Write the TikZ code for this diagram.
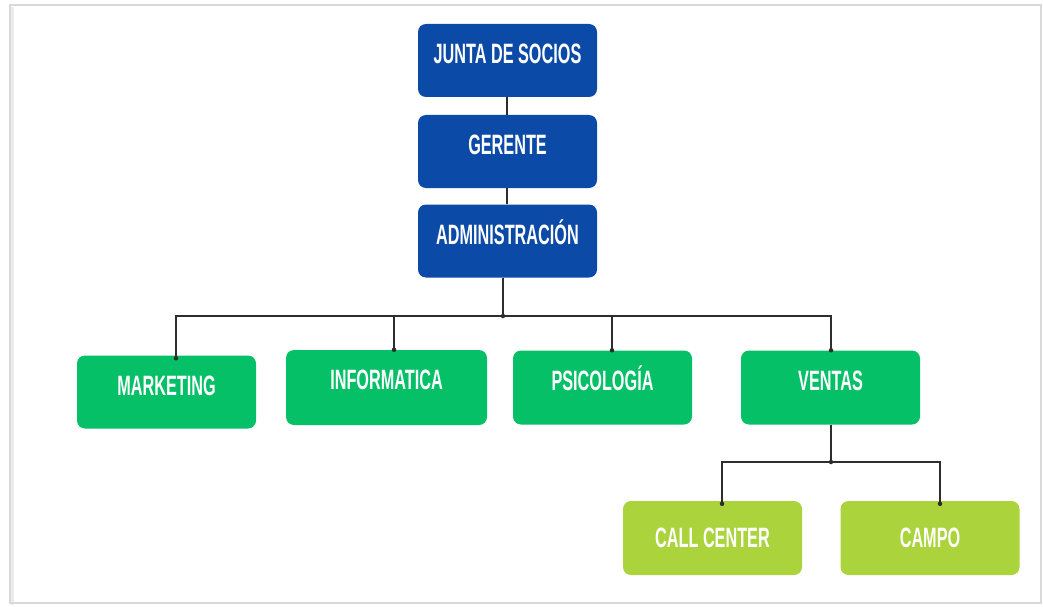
\documentclass[tikz,border=0pt]{standalone}
\usepackage{fontspec}
\setmainfont[FakeStretch=0.58,BoldFont={Liberation Sans Bold}]{Liberation Sans}
\usetikzlibrary{calc}
\definecolor{boxblue}{RGB}{12,74,168}
\definecolor{boxgreen}{RGB}{6,192,104}
\definecolor{boxlime}{RGB}{170,211,60}
\definecolor{linegray}{RGB}{45,45,45}
\tikzset{
  orgbox/.style={rounded corners=8pt, inner sep=0pt, text=white,
    font=\fontsize{28}{28}\selectfont\bfseries,
    text height=39.5pt, text depth=33.5pt, align=center},
  bluebox/.style={orgbox, fill=boxblue, minimum width=179pt},
  greenbox/.style={orgbox, fill=boxgreen, minimum width=179pt},
  limebox/.style={orgbox, fill=boxlime, minimum width=179pt,
    text height=46.5pt, text depth=27.5pt},
  link/.style={draw=linegray, line width=1.3pt},
  dotend/.style={fill=linegray, circle, inner sep=0pt, minimum size=4.5pt}
}
\begin{document}
\begin{tikzpicture}[x=1pt,y=-1pt]
\useasboundingbox (0,0) rectangle (1043,607);
\fill[white] (0,0) rectangle (1043,607);
% frame with soft shadow
\draw[black!8, line width=3pt] (12,7) -- (12,605);
\draw[black!15, line width=1.5pt] (10,5) rectangle (1041,603);

\node[bluebox] (junta) at (507.5,60.5) {JUNTA DE SOCIOS};
\node[bluebox] (gerente) at (507.5,151.5) {GERENTE};
\node[bluebox] (admin) at (507.5,241) {ADMINISTRACIÓN};

\node[greenbox] (mkt) at (166.5,392) {MARKETING};
\node[greenbox, minimum width=201pt, text depth=35.5pt] (info) at (386.5,387.5) {INFORMATICA};
\node[greenbox, text depth=34.5pt] (psico) at (602.5,387.5) {PSICOLOGÍA};
\node[greenbox, text depth=34.5pt] (ventas) at (830.5,387.5) {VENTAS};

\node[limebox] (call) at (712.5,538) {CALL CENTER};
\node[limebox] (campo) at (930,538) {CAMPO};

\coordinate (j1) at (503,316);
\coordinate (j2) at (831,462);

\draw[link] ([xshift=-0.5pt]junta.south) -- ([xshift=-0.5pt]gerente.north);
\draw[link] ([xshift=-0.5pt]gerente.south) -- ([xshift=-0.5pt]admin.north);
\draw[link] ([xshift=-4.5pt]admin.south) -- (j1);
\draw[link] (j1) -| ([xshift=9.5pt,yshift=-3pt]mkt.north) node[dotend] {};
\draw[link] (j1) -| ([xshift=7.5pt]info.north) node[dotend] {};
\draw[link] (j1) -| ([xshift=9.5pt]psico.north) node[dotend] {};
\draw[link] (j1) -| ([xshift=0.5pt]ventas.north) node[dotend] {};
\node[dotend] at (j1) {};

\draw[link] ([xshift=0.5pt]ventas.south) -- (j2);
\draw[link] (j2) -| ([xshift=9.5pt,yshift=-3pt]call.north) node[dotend] {};
\draw[link] (j2) -| ([xshift=10pt,yshift=-3pt]campo.north) node[dotend] {};
\node[dotend] at (j2) {};
\end{tikzpicture}
\end{document}
